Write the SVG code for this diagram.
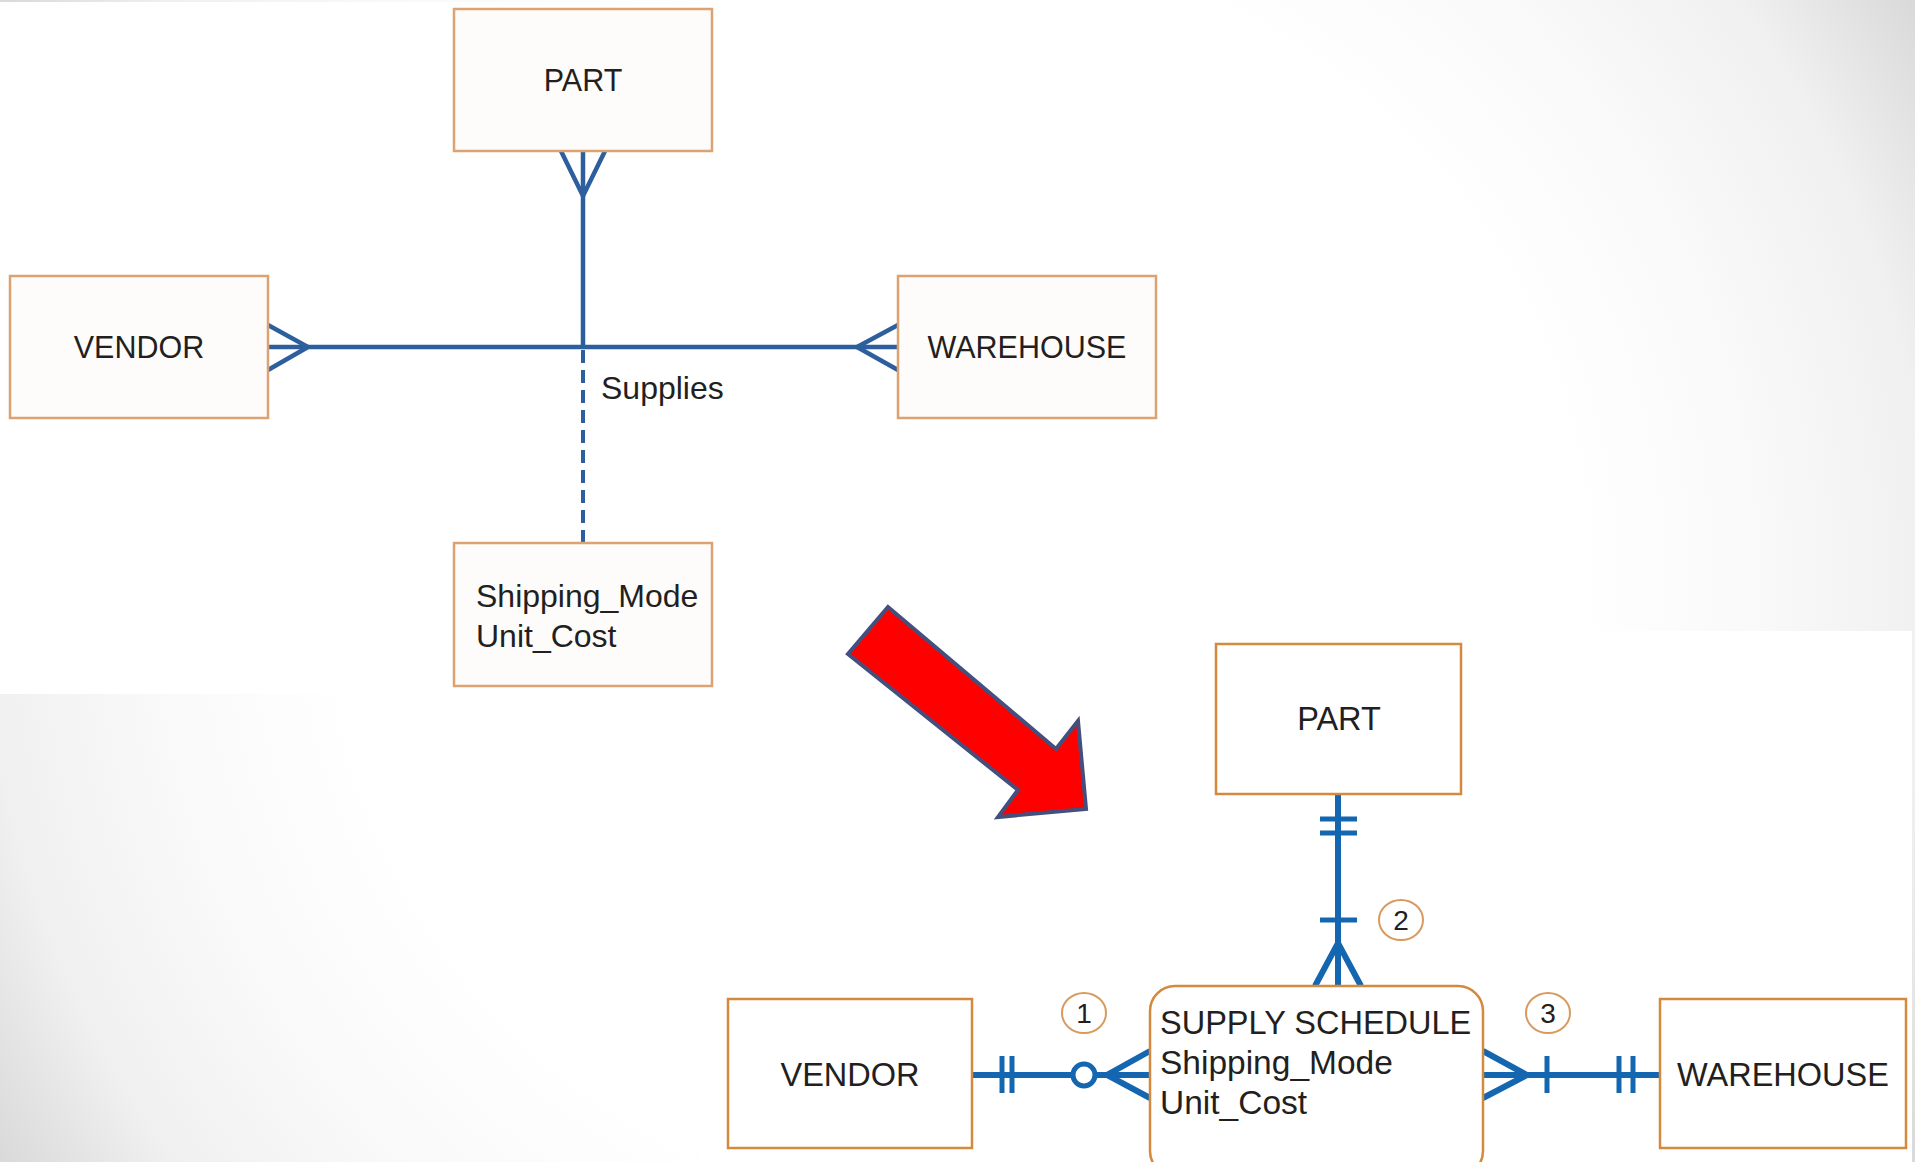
<svg xmlns="http://www.w3.org/2000/svg" width="1915" height="1162" viewBox="0 0 1915 1162">
  <defs>
    <radialGradient id="bg" gradientUnits="userSpaceOnUse" cx="957" cy="581" r="1120">
      <stop offset="0" stop-color="#ffffff"/>
      <stop offset="0.55" stop-color="#ffffff"/>
      <stop offset="0.72" stop-color="#f9f9f9"/>
      <stop offset="0.87" stop-color="#f0f0f0"/>
      <stop offset="1" stop-color="#d9d9d9"/>
    </radialGradient>
    <style>
      text { font-family: "Liberation Sans", Arial, sans-serif; fill: #231f20; }
      .t1 { font-size: 30.5px; }
      .t1m { font-size: 32px; }
      .t2 { font-size: 32.5px; }
      .t2m { font-size: 33.5px; }
      .num { font-size: 28px; }
      .mid { text-anchor: middle; }
      .box1 { fill: #fdfcfa; stroke: #dca271; stroke-width: 2.5; }
      .box2 { fill: #ffffff; stroke: #d4893c; stroke-width: 2.5; }
      .c1 { fill: none; stroke: #2d5f9e; stroke-width: 4.5; }
      .c1d { fill: none; stroke: #2d5f9e; stroke-width: 4; stroke-dasharray: 13 7; }
      .c2 { fill: none; stroke: #1466b0; stroke-width: 6; }
      .bar { fill: none; stroke: #1466b0; stroke-width: 5; }
      .badge { fill: #ffffff; stroke: #d99a5e; stroke-width: 2; }
    </style>
  </defs>

  <!-- background -->
  <rect x="0" y="0" width="1915" height="1162" fill="url(#bg)"/>
  <rect x="0" y="2" width="1165" height="692" fill="#ffffff"/>
  <rect x="700" y="631" width="1212" height="531" fill="#ffffff"/>

  <!-- connectors -->
  <g id="connectors">
    <!-- top diagram -->
    <line class="c1" x1="583" y1="151" x2="583" y2="347"/>
    <polyline class="c1" points="561,151 583,196 605,151"/>
    <line class="c1" x1="268" y1="347" x2="898" y2="347"/>
    <polyline class="c1" points="268,325 308,347 268,370"/>
    <polyline class="c1" points="898,325 857,347 898,370"/>
    <line class="c1d" x1="583" y1="350" x2="583" y2="543"/>

    <!-- bottom: PART - SUPPLY SCHEDULE -->
    <line class="c2" x1="1338" y1="794" x2="1338" y2="986"/>
    <line class="bar" x1="1320" y1="819" x2="1357" y2="819"/>
    <line class="bar" x1="1320" y1="833" x2="1357" y2="833"/>
    <line class="bar" x1="1320" y1="920" x2="1357" y2="920"/>
    <polyline class="c2" points="1315,986 1338,943 1361,986"/>

    <!-- bottom: VENDOR - SUPPLY SCHEDULE -->
    <line class="c2" x1="972" y1="1075" x2="1150" y2="1075"/>
    <line class="bar" x1="1002" y1="1056" x2="1002" y2="1093"/>
    <line class="bar" x1="1012" y1="1056" x2="1012" y2="1093"/>
    <polyline class="c2" points="1150,1051 1107,1075 1150,1098"/>
    <circle cx="1084" cy="1075" r="11" fill="#ffffff" stroke="#1466b0" stroke-width="5"/>

    <!-- bottom: SUPPLY SCHEDULE - WAREHOUSE -->
    <line class="c2" x1="1483" y1="1075" x2="1660" y2="1075"/>
    <polyline class="c2" points="1483,1051 1527,1075 1483,1098"/>
    <line class="bar" x1="1547" y1="1056" x2="1547" y2="1093"/>
    <line class="bar" x1="1619" y1="1056" x2="1619" y2="1093"/>
    <line class="bar" x1="1633" y1="1056" x2="1633" y2="1093"/>
  </g>

  <!-- top diagram nodes -->
  <g id="part-top">
    <rect class="box1" x="454" y="9" width="258" height="142"/>
    <text class="t1 mid" x="583" y="91">PART</text>
  </g>
  <g id="vendor-top">
    <rect class="box1" x="10" y="276" width="258" height="142"/>
    <text class="t1 mid" x="139" y="358">VENDOR</text>
  </g>
  <g id="warehouse-top">
    <rect class="box1" x="898" y="276" width="258" height="142"/>
    <text class="t1 mid" x="1027" y="358">WAREHOUSE</text>
  </g>
  <g id="supplies-label">
    <text class="t1m" x="601" y="399">Supplies</text>
  </g>
  <g id="attributes-top">
    <rect class="box1" x="454" y="543" width="258" height="143"/>
    <text class="t1m" x="476" y="607">Shipping_Mode</text>
    <text class="t1m" x="476" y="647">Unit_Cost</text>
  </g>

  <!-- red arrow -->
  <g id="arrow">
    <polygon points="888,607 848,654 1018,790 998,817 1086,809 1078,721 1056,749" fill="#ff0000" stroke="#43507e" stroke-width="4" stroke-linejoin="miter"/>
  </g>

  <!-- bottom diagram nodes -->
  <g id="part-bottom">
    <rect class="box2" x="1216" y="644" width="245" height="150"/>
    <text class="t2 mid" x="1339" y="730">PART</text>
  </g>
  <g id="vendor-bottom">
    <rect class="box2" x="728" y="999" width="244" height="149"/>
    <text class="t2 mid" x="850" y="1086">VENDOR</text>
  </g>
  <g id="warehouse-bottom">
    <rect class="box2" x="1660" y="999" width="246" height="149"/>
    <text class="t2 mid" x="1783" y="1086">WAREHOUSE</text>
  </g>
  <g id="supply-schedule">
    <rect class="box2" x="1150" y="986" width="333" height="190" rx="25" ry="25"/>
    <text class="t2" x="1160" y="1034">SUPPLY SCHEDULE</text>
    <text class="t2m" x="1160" y="1074">Shipping_Mode</text>
    <text class="t2m" x="1160" y="1114">Unit_Cost</text>
  </g>

  <!-- numbered badges -->
  <g id="badge-1">
    <ellipse class="badge" cx="1084" cy="1013" rx="22" ry="20"/>
    <text class="num mid" x="1084" y="1023">1</text>
  </g>
  <g id="badge-2">
    <ellipse class="badge" cx="1401" cy="920" rx="22" ry="20"/>
    <text class="num mid" x="1401" y="930">2</text>
  </g>
  <g id="badge-3">
    <ellipse class="badge" cx="1548" cy="1013" rx="22" ry="20"/>
    <text class="num mid" x="1548" y="1023">3</text>
  </g>
</svg>
